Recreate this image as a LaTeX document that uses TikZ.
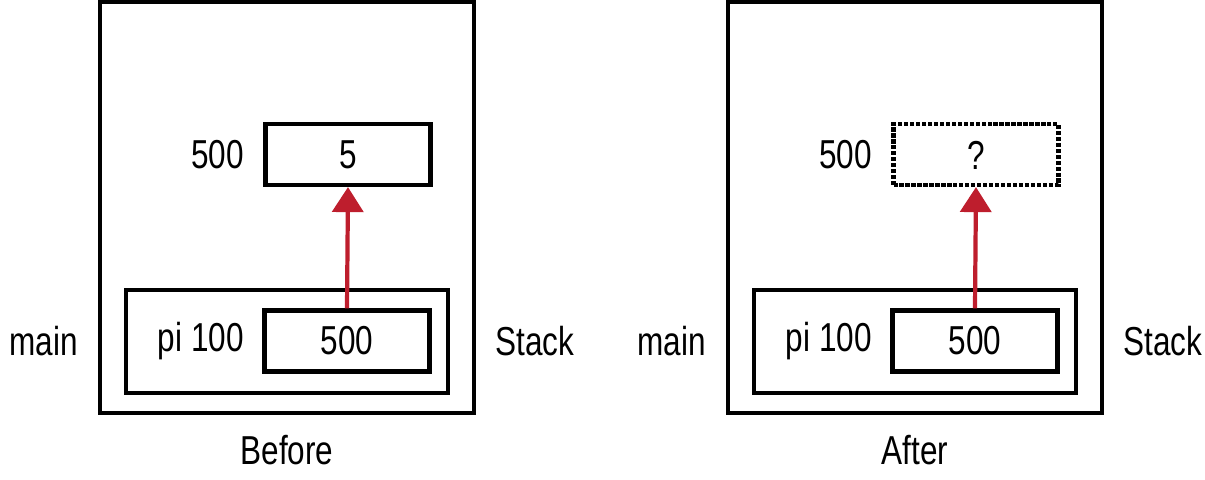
\documentclass[tikz,border=0pt]{standalone}
\usepackage{fontspec}
\setmainfont{Liberation Sans}[FakeStretch=0.78]
\usetikzlibrary{arrows.meta}
\definecolor{ptrred}{RGB}{190,30,45}
\tikzset{
    frame/.style={draw, line width=2.4pt, inner sep=0pt},
    cell/.style={frame, minimum width=3.3cm, minimum height=1.22cm},
    lbl/.style={font=\fontsize{23}{26}\selectfont, inner sep=0pt},
    ptr/.style={draw=ptrred, line width=2.4pt, -{Triangle[width=0.62cm, length=0.5cm]}},
}
\begin{document}
\begin{tikzpicture}[x=0.02cm, y=-0.02cm]
\useasboundingbox (0,0) rectangle (1205,480);
\foreach \dx/\name/\val/\dash in {0/Before/5/solid, 628/After/?/densely dotted}{
    \begin{scope}[xshift=\dx*0.02cm]
    % outer stack
    \node (stack) [frame, minimum width=7.48cm, minimum height=8.22cm] at (287,207.5) {};
    \node (mainframe) [frame, minimum width=6.44cm, minimum height=2.06cm] at (287,341.5) {};
    \node (ptrcell) [cell] at (347,341) {};
    \node (target) [cell, \dash] at (348,154.5) {};
    \node [lbl] at (347,341) {500};
    \node [lbl] at (348,155) {\val};
    \node [lbl, anchor=east] at (244,155) {500};
    \node [lbl, anchor=east] at (244,341) {pi 100};
    \node [lbl, anchor=east] at (78,341) {main};
    \node [lbl, anchor=west] at (495,341) {Stack};
    \node [lbl] at (287,450) {\name};
    \draw [ptr] (ptrcell.north) -- (target.south);
    \end{scope}
}
\end{tikzpicture}
\end{document}
